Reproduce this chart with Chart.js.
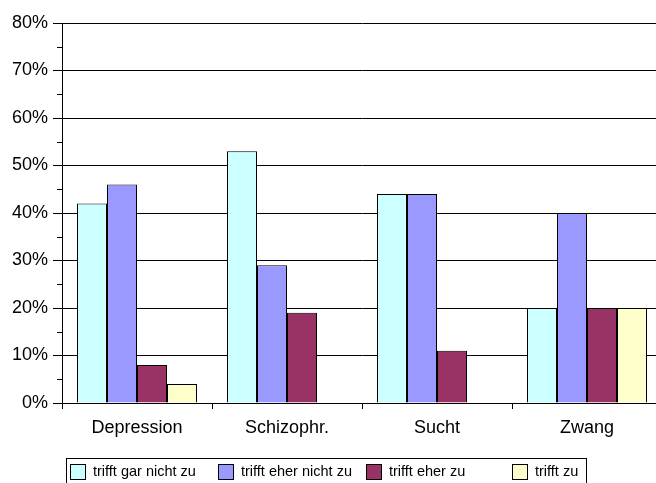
<!DOCTYPE html>
<html>
<head>
<meta charset="utf-8">
<title>Einschätzung nach Störungsbild</title>
<script src="https://cdn.jsdelivr.net/npm/chart.js@4/dist/chart.umd.min.js"></script>
<style>
  html, body { margin: 0; padding: 0; background: #fff; overflow: hidden; }
  #wrap { position: relative; width: 680px; height: 483px; }
</style>
</head>
<body>
<div id="wrap"><canvas id="myChart"></canvas></div>
<script>
  const categories = ["Depression", "Schizophr.", "Sucht", "Zwang"];
  const seriesLabels = ["trifft gar nicht zu", "trifft eher nicht zu", "trifft eher zu", "trifft zu"];
  const garNichtZu = [42, 53, 44, 20];
  const eherNichtZu = [46, 29, 44, 40];
  const eherZu = [8, 19, 11, 20];
  const trifftZu = [4, 0, 0, 20];
  const seriesColors = ["#CCFFFF", "#9999FF", "#993366", "#FFFFCC"];

  const FONT = "'Liberation Sans', Arial, sans-serif";

  // minor ticks every 5% on the left of the y axis
  const minorTicks = {
    id: "minorTicks",
    afterDraw(chart) {
      const y = chart.scales.y;
      const ctx = chart.ctx;
      const x0 = chart.chartArea.left;
      ctx.save();
      ctx.strokeStyle = "#000";
      ctx.lineWidth = 1;
      for (let v = 5; v < 80; v += 10) {
        const py = Math.round(y.getPixelForValue(v)) + 0.5;
        ctx.beginPath();
        ctx.moveTo(x0 - 5, py);
        ctx.lineTo(x0, py);
        ctx.stroke();
      }
      ctx.restore();
    },
  };

  // boxed legend under the axis, one column per series
  const boxLegend = {
    id: "boxLegend",
    afterDraw(chart) {
      const ctx = chart.ctx;
      const cols = [70, 218, 366, 512];
      ctx.save();
      ctx.strokeStyle = "#000";
      ctx.lineWidth = 1;
      ctx.strokeRect(66.5, 458.5, 520, 40);
      ctx.font = "14.5px " + FONT;
      ctx.textBaseline = "middle";
      ctx.fillStyle = "#000";
      chart.data.datasets.forEach((ds, i) => {
        const x = cols[i];
        ctx.fillStyle = ds.backgroundColor;
        ctx.fillRect(x + 0.5, 464.5, 15, 15);
        ctx.strokeRect(x + 0.5, 464.5, 15, 15);
        ctx.fillStyle = "#000";
        ctx.fillText(ds.label, x + 23, 472);
      });
      ctx.restore();
    },
  };

  const ctx = document.getElementById("myChart");
  const seriesValues = [garNichtZu, eherNichtZu, eherZu, trifftZu];

  new Chart(ctx, {
    type: "bar",
    data: {
      labels: categories,
      datasets: seriesValues.map((vals, i) => ({
        label: seriesLabels[i],
        data: vals,
        backgroundColor: seriesColors[i],
        borderColor: "#000",
        borderWidth: 1,
        barPercentage: 1.0,
        categoryPercentage: 0.8,
      })),
    },
    options: {
      responsive: true,
      maintainAspectRatio: false,
      animation: false,
      layout: { padding: { top: 23, right: 18, left: 0, bottom: 0 } },
      plugins: {
        legend: { display: false },
        tooltip: { enabled: false },
      },
      scales: {
        x: {
          grid: {
            offset: true,
            drawOnChartArea: false,
            drawTicks: true,
            tickLength: 6,
            color: "#000",
          },
          border: { display: true, color: "#000", width: 1 },
          ticks: {
            color: "#000",
            font: { family: FONT, size: 18 },
            padding: 8,
            maxRotation: 0,
          },
          afterFit(scale) {
            scale.height = 80;
          },
        },
        y: {
          min: 0,
          max: 80,
          grid: {
            color: "#000",
            lineWidth: 1,
            tickLength: 9,
          },
          border: { display: true, color: "#000", width: 1 },
          ticks: {
            stepSize: 10,
            color: "#000",
            padding: 5,
            font: { family: FONT, size: 18 },
            callback: (v) => v + "%",
          },
          afterFit(scale) {
            scale.width = 62;
          },
        },
      },
    },
    plugins: [minorTicks, boxLegend],
  });
</script>
</body>
</html>
